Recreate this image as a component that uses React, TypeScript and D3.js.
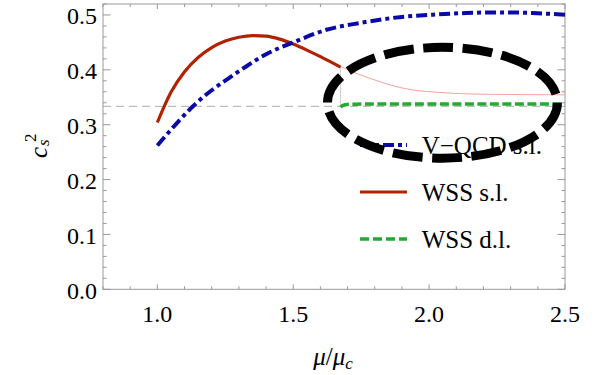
import React from "react";
import * as d3 from "d3";

// ---- data ----
const muBlue = [1.0, 1.072, 1.133, 1.194, 1.255, 1.317, 1.402, 1.5, 1.622, 1.745, 1.891, 2.014, 2.136, 2.258, 2.38, 2.5];
const cBlue = [0.262, 0.303, 0.3345, 0.3606, 0.382, 0.403, 0.429, 0.45, 0.473, 0.4854, 0.496, 0.5005, 0.5036, 0.5047, 0.5036, 0.5003];

const muRed = [1.0, 1.05, 1.1, 1.15, 1.2, 1.25, 1.3, 1.35, 1.4, 1.45, 1.5, 1.55, 1.6, 1.674];
const cRed = [0.304, 0.359, 0.3965, 0.4225, 0.4405, 0.4525, 0.4595, 0.4625, 0.4615, 0.456, 0.447, 0.436, 0.424, 0.405];

const muRedThin = [1.674, 1.72, 1.78, 1.84, 1.9, 1.96, 2.03, 2.15, 2.3, 2.5];
const cRedThin = [0.406, 0.396, 0.385, 0.375, 0.367, 0.362, 0.359, 0.356, 0.355, 0.3545];

const muGreen = [1.674, 1.685, 1.7, 1.73, 2.0, 2.5];
const cGreen = [0.332, 0.3355, 0.337, 0.3375, 0.3376, 0.3376];

const conformal = 1 / 3;
const muTransition = 1.674;

const xTickLabels = ["1.0", "1.5", "2.0", "2.5"];
const yTickLabels = ["0.0", "0.1", "0.2", "0.3", "0.4", "0.5"];

const legendLabels = ["V\u2212QCD s.l.", "WSS s.l.", "WSS d.l."];

// annotation ellipse (data coords)
const ellCx = 2.049;
const ellCy = 0.34;
const ellRx = 0.423;
const ellRy = 0.101;

const W = 605;
const H = 375;
const FONT = "Liberation Serif";
const TS: React.CSSProperties = { fontFamily: FONT };

const BLUE = "#0a0aa6";
const RED = "#b32200";
const GREEN = "#26a832";
const FRAME = "#999999";

export default function App() {
  const x = d3.scaleLinear().domain([0.8, 2.5]).range([103, 565]);
  const y = d3.scaleLinear().domain([0, 0.52]).range([289.3, 4]);

  const line = d3
    .line<[number, number]>()
    .x((d) => x(d[0]))
    .y((d) => y(d[1]))
    .curve(d3.curveMonotoneX);

  const zip = (a: number[], b: number[]) => a.map((v, i) => [v, b[i]] as [number, number]);

  const xTicks = d3.range(8, 26).map((v) => v / 10);
  const yTicks = d3.range(0, 27).map((v) => v / 50).filter((v) => v <= 0.52);

  const [x0, x1] = x.range();
  const [y0, y1] = y.range();

  const erx = x(ellCx + ellRx) - x(ellCx);
  const ery = y(ellCy - ellRy) - y(ellCy);
  const h = Math.pow(erx - ery, 2) / Math.pow(erx + ery, 2);
  const per = Math.PI * (erx + ery) * (1 + (3 * h) / (10 + Math.sqrt(4 - 3 * h)));
  const period = per / 14;
  const dash = period * 0.76;
  const gap = period - dash;

  const legendX0 = 360;
  const legendX1 = 407;
  const legendTextX = 421.7;
  const legendYs = [145, 192, 239];
  const legendStyles = [
    { stroke: BLUE, width: 4, dash: "11 4 4 4" },
    { stroke: RED, width: 3, dash: "none" },
    { stroke: GREEN, width: 3.5, dash: "9 4" },
  ];

  return (
    <svg width={W} height={H} style={{ position: "absolute", left: 0, top: 0, background: "#fff" }}>
      {/* reference 1/3 */}
      <line
        x1={x0}
        x2={x1}
        y1={y(conformal)}
        y2={y(conformal)}
        stroke="#bdbdbd"
        strokeWidth={1.3}
        strokeDasharray="8 5"
      />
      {/* vertical transition marker */}
      <line
        x1={x(muTransition)}
        x2={x(muTransition)}
        y1={y(0.405)}
        y2={y(conformal)}
        stroke="#d0d0d0"
        strokeWidth={1}
      />

      {/* frame */}
      <rect x={x0} y={y1} width={x1 - x0} height={y0 - y1} fill="none" stroke={FRAME} strokeWidth={1} />
      {xTicks.map((t) => {
        const major = Math.abs(t * 2 - Math.round(t * 2)) < 1e-6;
        const len = major ? 5 : 3;
        return (
          <g key={"xt" + t}>
            <line x1={x(t)} x2={x(t)} y1={y0} y2={y0 - len} stroke={FRAME} />
            <line x1={x(t)} x2={x(t)} y1={y1} y2={y1 + len} stroke={FRAME} />
          </g>
        );
      })}
      {yTicks.map((t) => {
        const major = Math.abs(t * 10 - Math.round(t * 10)) < 1e-6;
        const len = major ? 7.5 : 3.5;
        return (
          <g key={"yt" + t}>
            <line x1={x0} x2={x0 + len} y1={y(t)} y2={y(t)} stroke={FRAME} />
            <line x1={x1} x2={x1 - len} y1={y(t)} y2={y(t)} stroke={FRAME} />
          </g>
        );
      })}

      {/* tick labels */}
      {xTickLabels.map((l) => (
        <text key={"xl" + l} x={x(+l)} y={321.7} textAnchor="middle" fontSize={24} fill="#000" style={TS}>
          {l}
        </text>
      ))}
      {yTickLabels.map((l) => (
        <text key={"yl" + l} x={97} y={y(+l) + 9.5} textAnchor="end" fontSize={24} fill="#000" style={TS}>
          {l}
        </text>
      ))}

      {/* axis titles */}
      <text x={333} y={365} textAnchor="middle" fontSize={25} fill="#000" style={TS}>
        <tspan fontStyle="italic">μ</tspan>
        <tspan>/</tspan>
        <tspan fontStyle="italic">μ</tspan>
        <tspan fontStyle="italic" fontSize={17} dy={4}>
          c
        </tspan>
      </text>
      <text transform="translate(47,158) rotate(-90)" fontSize={25} fill="#000" style={TS}>
        <tspan fontStyle="italic">c</tspan>
        <tspan fontStyle="italic" fontSize={17} x={12} dy={2}>
          s
        </tspan>
        <tspan fontSize={17} x={16} dy={-13}>
          2
        </tspan>
      </text>

      {/* curves */}
      <path d={line(zip(muRedThin, cRedThin)) || ""} fill="none" stroke="#f5a59a" strokeWidth={1} />
      <path
        d={line(zip(muGreen, cGreen)) || ""}
        fill="none"
        stroke={GREEN}
        strokeWidth={3.5}
        strokeDasharray="9 3.5"
      />
      <path d={line(zip(muRed, cRed)) || ""} fill="none" stroke={RED} strokeWidth={3.2} />
      <path
        d={line(zip(muBlue, cBlue)) || ""}
        fill="none"
        stroke={BLUE}
        strokeWidth={4}
        strokeDasharray="11 4 4 4"
      />

      {/* legend */}
      {legendLabels.map((l, i) => (
        <g key={"lg" + i}>
          <line
            x1={legendX0}
            x2={legendX1}
            y1={legendYs[i]}
            y2={legendYs[i]}
            stroke={legendStyles[i].stroke}
            strokeWidth={legendStyles[i].width}
            strokeDasharray={legendStyles[i].dash}
          />
          <text x={legendTextX} y={legendYs[i] + 9} fontSize={25} fill="#000" style={TS}>
            {l}
          </text>
        </g>
      ))}

      {/* annotation ellipse */}
      <ellipse
        cx={x(ellCx)}
        cy={y(ellCy)}
        rx={erx}
        ry={ery}
        fill="none"
        stroke="#000"
        strokeWidth={9}
        strokeDasharray={`${dash} ${gap}`}
      />
    </svg>
  );
}
